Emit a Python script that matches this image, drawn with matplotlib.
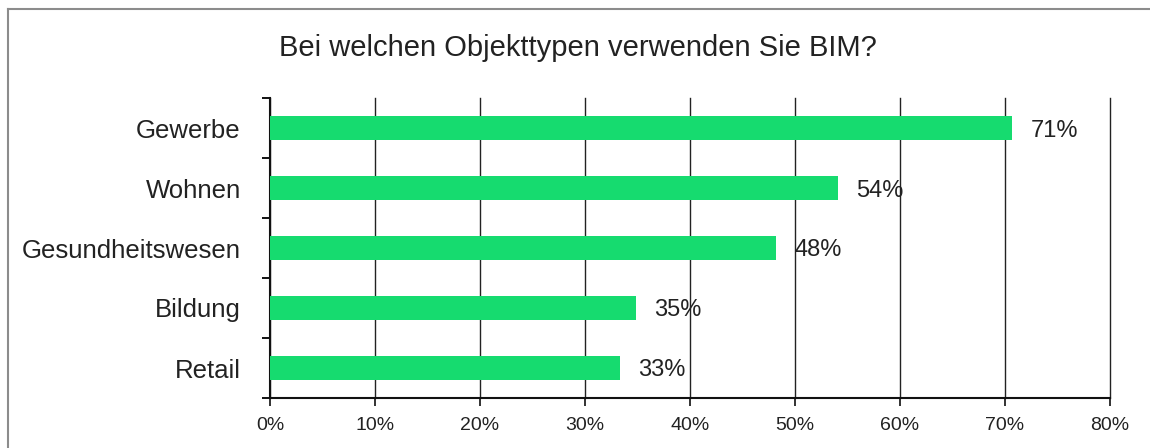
import matplotlib
matplotlib.use("Agg")
import matplotlib.pyplot as plt
from matplotlib.lines import Line2D
from matplotlib.ticker import MultipleLocator, FuncFormatter, FixedLocator

categories = ["Gewerbe", "Wohnen", "Gesundheitswesen", "Bildung", "Retail"]
values = [0.707, 0.541, 0.482, 0.349, 0.333]
labels = ["71%", "54%", "48%", "35%", "33%"]
title = "Bei welchen Objekttypen verwenden Sie BIM?"

plt.rcParams['font.family'] = ['Liberation Sans', 'DejaVu Sans']

fig = plt.figure(figsize=(11.5, 4.48), dpi=100)
ax = fig.add_axes([270/1150, 1-398/448, 840/1150, 300/448])

n = len(categories)
ypos = list(range(n))[::-1]
ax.barh(ypos, values, height=0.4, color="#16DB6F", zorder=3)
for y, v, lab in zip(ypos, values, labels):
    ax.annotate(lab, (v, y), xytext=(13, 0), textcoords="offset points",
                va="center_baseline", ha="left", fontsize=17, color="#222222", zorder=4)

ax.set_xlim(0, 0.8)
ax.set_ylim(-0.5, n - 0.5)
ax.xaxis.set_major_locator(MultipleLocator(0.1))
ax.xaxis.set_major_formatter(FuncFormatter(lambda x, p: f"{x*100:.0f}%"))
ax.grid(axis="x", color="#222222", linewidth=1.0, zorder=0)
for gl in ax.get_xgridlines():
    gl.set_clip_on(False)
ax.set_yticks(ypos)
ax.set_yticklabels(categories, fontsize=18.5, color="#222222")
ax.yaxis.set_minor_locator(FixedLocator([i - 0.5 for i in range(n + 1)]))
ax.tick_params(axis="y", which="major", length=0, pad=21)
ax.tick_params(axis="y", which="minor", length=6, width=1.3, direction="out")
ax.tick_params(axis="x", which="major", length=6, width=1.3, direction="out",
               labelsize=14, colors="#222222", pad=8)
for s in ["top", "right"]:
    ax.spines[s].set_visible(False)
for s in ["left", "bottom"]:
    ax.spines[s].set_linewidth(1.5)
    ax.spines[s].set_color("#111111")

fig.text(578/1150, 1-48/448, title, ha="center", va="center", fontsize=21, color="#222222")

fig.add_artist(Line2D([8/1150, 8/1150], [0, 1-9/448], transform=fig.transFigure, color="#8c8c8c", linewidth=1.5))
fig.add_artist(Line2D([8/1150, 1], [1-9/448, 1-9/448], transform=fig.transFigure, color="#8c8c8c", linewidth=1.5))

fig.savefig("out.png", dpi=100)
